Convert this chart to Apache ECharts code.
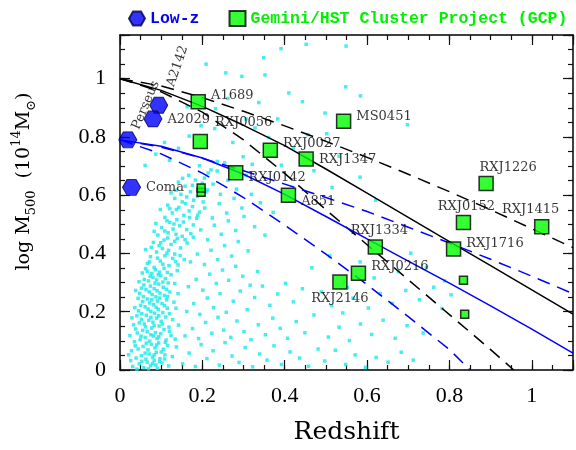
<!DOCTYPE html>
<html>
<head>
<meta charset="utf-8">
<script src="https://cdn.jsdelivr.net/npm/echarts@6/dist/echarts.min.js"></script>
<style>
html, body { margin: 0; padding: 0; background: #fff; }
#chart { width: 576px; height: 450px; }
</style>
</head>
<body>
<div id="chart"></div>
<script>
// ---- data ----
var zGrid = [0, 0.1, 0.2, 0.3, 0.4, 0.5, 0.6, 0.7, 0.8, 0.9, 1.0, 1.1];
var blackSolid = [1.0, 0.96, 0.905, 0.84, 0.77, 0.69, 0.607, 0.524, 0.441, 0.358, 0.275, 0.192];
var blackDashUpper = [1.0, 0.975, 0.935, 0.888, 0.838, 0.785, 0.73, 0.672, 0.612, 0.55, 0.485, 0.42];
var zBlackLower = [0, 0.1, 0.2, 0.3, 0.4, 0.5, 0.6, 0.7, 0.8, 0.9, 0.956];
var blackDashLower = [1.0, 0.955, 0.885, 0.79, 0.675, 0.55, 0.43, 0.31, 0.19, 0.07, 0];
var blueSolid = [0.79, 0.768, 0.728, 0.672, 0.603, 0.527, 0.45, 0.374, 0.298, 0.22, 0.14, 0.058];
var blueDashUpper = [0.79, 0.765, 0.727, 0.684, 0.638, 0.592, 0.544, 0.49, 0.436, 0.38, 0.322, 0.262];
var zBlueLower = [0, 0.1, 0.2, 0.3, 0.4, 0.5, 0.6, 0.7, 0.8, 0.85];
var blueDashLower = [0.79, 0.742, 0.676, 0.592, 0.497, 0.398, 0.293, 0.183, 0.07, 0];

var lowzNames = ['Perseus', 'A2142', 'A2029', 'Coma'];
var lowzZ = [0.019, 0.094, 0.080, 0.028];
var lowzM = [0.79, 0.909, 0.862, 0.627];

var gcpNames = ['A1689', 'RXJ0056', 'RXJ0142', 'RXJ0027', 'RXJ1347', 'MS0451', 'A851',
  'RXJ1334', 'RXJ0216', 'RXJ2146', 'RXJ1716', 'RXJ0152', 'RXJ1226', 'RXJ1415'];
var gcpZ = [0.19, 0.195, 0.281, 0.365, 0.452, 0.543, 0.409, 0.620, 0.579, 0.534, 0.810, 0.834, 0.889, 1.024];
var gcpM = [0.921, 0.784, 0.677, 0.754, 0.724, 0.854, 0.600, 0.422, 0.332, 0.302, 0.415, 0.506, 0.640, 0.492];
var gcpSmallZ = [0.197, 0.197, 0.834, 0.837];
var gcpSmallM = [0.61, 0.625, 0.308, 0.191];

// field clusters [z, logM], dense low-mass part of the cloud
var cloudLow = [
  [0.031,0.012],[0.047,0.021],[0.058,0.008],[0.066,0.027],[0.074,0.015],[0.083,0.033],[0.091,0.006],[0.102,0.024],[0.118,0.014],[0.039,0.041],
  [0.052,0.049],[0.063,0.037],[0.071,0.055],[0.079,0.044],[0.088,0.061],[0.097,0.039],[0.109,0.052],[0.127,0.046],[0.028,0.066],[0.044,0.072],
  [0.056,0.081],[0.068,0.069],[0.076,0.088],[0.085,0.076],[0.094,0.093],[0.105,0.071],[0.116,0.084],[0.137,0.079],[0.035,0.097],[0.049,0.104],
  [0.061,0.112],[0.072,0.099],[0.081,0.117],[0.09,0.108],[0.099,0.125],[0.112,0.103],[0.124,0.118],[0.042,0.127],[0.055,0.136],[0.066,0.131],
  [0.077,0.144],[0.086,0.128],[0.095,0.151],[0.107,0.139],[0.119,0.147],[0.033,0.155],[0.047,0.162],[0.059,0.158],[0.07,0.171],[0.08,0.164],
  [0.089,0.178],[0.1,0.167],[0.111,0.182],[0.128,0.173],[0.041,0.186],[0.053,0.193],[0.064,0.188],[0.075,0.201],[0.084,0.195],[0.093,0.208],
  [0.104,0.197],[0.115,0.212],[0.036,0.214],[0.05,0.222],[0.061,0.217],[0.072,0.23],[0.082,0.224],[0.091,0.237],[0.102,0.228],[0.113,0.241],
  [0.131,0.233],[0.044,0.246],[0.057,0.252],[0.067,0.244],[0.078,0.259],[0.087,0.251],[0.097,0.264],[0.108,0.256],[0.121,0.268],[0.038,0.273],
  [0.052,0.281],[0.063,0.276],[0.074,0.288],[0.083,0.279],[0.094,0.295],[0.105,0.284],[0.117,0.299],[0.046,0.303],[0.059,0.311],[0.069,0.306],
  [0.08,0.318],[0.089,0.309],[0.099,0.324],[0.11,0.314],[0.124,0.327],[0.054,0.333],[0.066,0.339],[0.077,0.331],[0.086,0.344],[0.096,0.336],
  [0.107,0.349],[0.139,0.341],
  [0.026,0.032],[0.041,0.003],[0.053,0.03],[0.069,0.004],[0.079,0.022],[0.087,0.017],[0.096,0.029],[0.108,0.038],[0.061,0.058],[0.083,0.052],
  [0.1,0.062],[0.037,0.083],[0.064,0.092],[0.089,0.086],[0.11,0.095],[0.051,0.116],[0.075,0.121],[0.094,0.114],[0.12,0.133],[0.038,0.141],
  [0.062,0.148],[0.083,0.152],[0.103,0.158],[0.052,0.174],[0.075,0.181],[0.094,0.186],[0.12,0.193],[0.045,0.203],[0.068,0.209],[0.088,0.215],
  [0.108,0.221],[0.055,0.235],[0.077,0.241],[0.096,0.247],[0.116,0.252],[0.048,0.263],[0.071,0.268],[0.09,0.272],[0.113,0.277],[0.058,0.292],
  [0.085,0.298],[0.104,0.302],[0.073,0.322],[0.093,0.327],[0.062,0.348],[0.115,0.335],[0.024,0.118],[0.029,0.179],[0.021,0.052],[0.134,0.106],
  [0.142,0.154],[0.136,0.212],[0.141,0.262],[0.133,0.297]
];

// upper, tilted part of the dense cloud
var cloudHigh = [
  [0.083,0.352],[0.119,0.358],[0.067,0.366],[0.141,0.361],[0.098,0.374],[0.128,0.383],[0.074,0.389],[0.109,0.392],[0.156,0.379],[0.089,0.405],
  [0.133,0.398],[0.062,0.413],[0.118,0.411],[0.147,0.419],[0.095,0.427],[0.081,0.438],[0.124,0.431],[0.163,0.436],[0.107,0.446],[0.139,0.452],
  [0.092,0.463],[0.151,0.459],[0.117,0.471],[0.172,0.468],[0.129,0.484],[0.101,0.489],[0.145,0.495],[0.162,0.482],[0.087,0.503],[0.121,0.507],
  [0.178,0.498],[0.138,0.516],[0.109,0.524],[0.155,0.531],[0.186,0.521],[0.127,0.539],[0.168,0.546],[0.098,0.551],[0.143,0.558],[0.193,0.542],
  [0.116,0.566],[0.159,0.571],[0.179,0.583],[0.133,0.589],[0.202,0.577],[0.148,0.603],[0.171,0.612],[0.124,0.608],[0.191,0.624],[0.158,0.631],
  [0.212,0.618],[0.142,0.645],[0.183,0.652],[0.167,0.668],[0.205,0.659],[0.221,0.687],[0.193,0.701],[0.236,0.716],
  [0.072,0.371],[0.104,0.363],[0.135,0.372],[0.091,0.384],[0.114,0.401],[0.146,0.393],[0.076,0.421],[0.103,0.417],[0.133,0.442],[0.116,0.453],
  [0.099,0.437],[0.158,0.447],[0.136,0.466],[0.109,0.477],[0.083,0.476],[0.154,0.508],[0.131,0.501],[0.114,0.512],[0.169,0.523],[0.137,0.551],
  [0.121,0.554],[0.176,0.561],[0.151,0.577],[0.188,0.596],[0.136,0.617],[0.162,0.594],[0.176,0.634],[0.2,0.641],[0.152,0.658],[0.214,0.676]
];

// intermediate redshifts
var fieldMid = [
  [0.152,0.021],[0.168,0.058],[0.183,0.012],[0.197,0.087],[0.211,0.039],[0.226,0.066],[0.241,0.017],[0.255,0.094],[0.272,0.048],[0.289,0.026],
  [0.304,0.077],[0.322,0.011],[0.339,0.055],[0.357,0.034],[0.374,0.083],[0.392,0.019],[0.413,0.062],[0.436,0.041],[0.458,0.013],[0.481,0.072],
  [0.158,0.117],[0.176,0.142],[0.191,0.108],[0.208,0.163],[0.223,0.126],[0.238,0.181],[0.252,0.137],[0.269,0.112],[0.284,0.168],[0.301,0.132],
  [0.318,0.104],[0.336,0.155],[0.353,0.121],[0.371,0.178],[0.389,0.143],[0.407,0.109],[0.428,0.166],[0.449,0.128],[0.162,0.201],[0.179,0.228],
  [0.194,0.191],[0.212,0.247],[0.227,0.214],[0.243,0.262],[0.258,0.198],[0.275,0.236],[0.292,0.271],[0.309,0.207],[0.327,0.249],[0.346,0.288],
  [0.364,0.222],[0.383,0.261],[0.402,0.297],[0.421,0.234],[0.443,0.279],[0.166,0.286],[0.185,0.311],[0.201,0.274],[0.218,0.329],[0.234,0.297],
  [0.249,0.343],[0.264,0.308],[0.281,0.356],[0.298,0.322],[0.316,0.291],[0.334,0.338],[0.171,0.371],[0.188,0.398],[0.205,0.362],[0.221,0.411],
  [0.237,0.379],[0.254,0.427],[0.271,0.391],[0.287,0.441],[0.311,0.409],[0.352,0.463],[0.178,0.456],[0.196,0.481],[0.213,0.447],[0.229,0.497],
  [0.246,0.466],[0.263,0.512],[0.281,0.479],[0.301,0.527],[0.327,0.492],[0.372,0.541],[0.189,0.531],[0.206,0.556],[0.224,0.522],[0.241,0.571],
  [0.259,0.539],[0.277,0.589],[0.296,0.556],[0.319,0.603],[0.341,0.574],[0.209,0.612],[0.226,0.638],[0.244,0.603],[0.262,0.651],[0.283,0.621],
  [0.306,0.668],[0.236,0.683],[0.254,0.711],[0.276,0.693],[0.299,0.732],[0.321,0.706]
];

// sparse high-z tail
var fieldFar = [
  [0.497,0.031],[0.523,0.068],[0.548,0.019],[0.571,0.052],[0.596,0.009],[0.622,0.043],[0.651,0.027],[0.683,0.061],[0.712,0.034],[0.506,0.113],
  [0.532,0.147],[0.557,0.101],[0.584,0.158],[0.611,0.122],[0.639,0.171],[0.668,0.109],[0.697,0.152],[0.736,0.127],[0.471,0.189],[0.514,0.221],
  [0.541,0.196],[0.566,0.247],[0.603,0.213],[0.632,0.262],[0.661,0.229],[0.694,0.273],[0.727,0.241],[0.762,0.284],[0.489,0.268],[0.552,0.283],
  [0.617,0.316],[0.676,0.338],[0.744,0.352],[0.788,0.306],[0.466,0.351],[0.509,0.392],[0.583,0.371],[0.706,0.401],[0.782,0.211],[0.804,0.258]
];

// sparse massive systems above the cloud
var fieldTop = [
  [0.12,0.72],[0.142,0.761],[0.168,0.803],[0.197,0.838],[0.23,0.829],[0.262,0.932],[0.209,1.05],[0.257,1.02],[0.296,1.008],[0.349,1.072],
  [0.391,1.103],[0.452,1.118],[0.549,1.112],[0.352,1.013],[0.548,0.972],[0.584,0.941],[0.41,0.951],[0.443,0.921],[0.337,0.918],[0.498,0.882],
  [0.502,0.811],[0.383,0.862],[0.698,0.842],[0.583,0.662],[0.306,0.862],[0.328,0.831],[0.232,0.897],[0.163,0.904],[0.421,0.762],[0.361,0.798],
  [0.108,0.781],[0.532,0.734],[0.471,0.684],[0.392,0.703],[0.061,0.702],[0.087,0.741],[0.274,0.781],[0.456,0.808],[0.621,0.583],[0.515,0.627]
];

// ---- helpers ----
function pairUp(xs, ys) {
  return ys.map(function (y, i) { return [xs[i], y]; });
}

var cloud = cloudLow.concat(cloudHigh, fieldMid, fieldFar, fieldTop);

var hexPath = 'path://M4,0 L2,3.46 L-2,3.46 L-4,0 L-2,-3.46 L2,-3.46 Z';
var gcpTitle = 'Gemini/HST Cluster Project (GCP)';
var serif = 'DejaVu Serif';
var tickFont = 'Liberation Serif';

// label placement for each named cluster (position, offset)
var labelPlace = {
  'A1689': ['right', [0, -6]], 'RXJ0056': ['right', [2, -19]], 'RXJ0142': ['right', [0, 5]],
  'RXJ0027': ['right', [0, -7]], 'RXJ1347': ['right', [0, 1]], 'MS0451': ['right', [0, -5]],
  'A851': ['right', [0, 6]], 'RXJ1334': ['top', [4, 3]], 'RXJ0216': ['right', [0, -7]],
  'RXJ2146': ['bottom', [0, -3]], 'RXJ1716': ['right', [0, -5]], 'RXJ0152': ['top', [3, 3]],
  'RXJ1226': ['top', [22, 3]], 'RXJ1415': ['top', [-11, 2]],
  'A2029': ['right', [0, 1]], 'Coma': ['right', [0, 0]]
};

function labelled(names, xs, ys) {
  return names.map(function (n, i) {
    var item = { name: n, value: [xs[i], ys[i]] };
    var p = labelPlace[n];
    if (p) {
      item.label = { show: true, position: p[0], offset: p[1] };
    }
    return item;
  });
}

var gcpData = labelled(gcpNames, gcpZ, gcpM);
gcpSmallZ.forEach(function (z, i) {
  gcpData.push({ name: '', value: [z, gcpSmallM[i]], symbolSize: 8 });
});

var lowzData = labelled(lowzNames, lowzZ, lowzM);
// Perseus and A2142 carry rotated labels
lowzData[0].label = { show: true, position: 'inside', rotate: 67, offset: [39, 3] };
lowzData[1].label = { show: true, position: 'inside', rotate: 71, offset: [43, 5] };

function fmt(step) {
  return function (v) {
    var k = v / step;
    if (Math.abs(k - Math.round(k)) > 1e-6) return '';
    return String(+v.toFixed(1));
  };
}

function frameAxis(dim, pos, interval, tickLen, main) {
  var max = dim === 'x' ? 1.1 : 1.15;
  return {
    type: 'value', min: 0, max: max, interval: interval, position: pos,
    axisLine: { show: main, onZero: false, lineStyle: { color: '#000', width: 1.5 } },
    axisTick: { show: true, inside: true, length: tickLen, lineStyle: { color: '#111', width: 1.2 } },
    axisLabel: { show: false },
    splitLine: { show: false }
  };
}

var xMain = frameAxis('x', 'bottom', 0.2, 10, true);
xMain.axisLabel = { show: true, formatter: fmt(0.2), fontFamily: tickFont, fontSize: 22, color: '#000', margin: 15 };
xMain.name = 'Redshift';
xMain.nameLocation = 'middle';
xMain.nameGap = 50;
xMain.nameTextStyle = { fontFamily: serif, fontSize: 25, color: '#000' };

var yMain = frameAxis('y', 'left', 0.2, 10, true);
yMain.axisLabel = { show: true, formatter: fmt(0.2), fontFamily: tickFont, fontSize: 22, color: '#000', margin: 14 };
yMain.name = '{n|log M}{s|500}{n|  (10}{p|14}{n|M}{s|\u2299}{n|)}';
yMain.nameLocation = 'middle';
yMain.nameGap = 82;
yMain.nameTextStyle = {
  color: '#000', padding: [0, 0, 0, 42],
  rich: {
    n: { fontFamily: serif, fontSize: 19, lineHeight: 28, color: '#000' },
    s: { fontFamily: serif, fontSize: 13, verticalAlign: 'bottom', color: '#000' },
    p: { fontFamily: serif, fontSize: 13, verticalAlign: 'top', color: '#000' }
  }
};

var chart = echarts.init(document.getElementById('chart'));

function curve(name, xs, ys, color, dashed) {
  return {
    name: name, type: 'line', xAxisIndex: 0, yAxisIndex: 0,
    data: pairUp(xs, ys), showSymbol: false, symbol: 'none',
    smooth: false, silent: true, z: 3,
    lineStyle: { color: color, width: 1.5, type: dashed ? [13, 8] : 'solid' }
  };
}

var option = {
  animation: false,
  backgroundColor: '#fff',
  grid: { left: 120, right: 1, top: 35, bottom: 72, containLabel: false },
  legend: {
    left: 128, top: 10, width: 448, padding: 0,
    itemWidth: 16, itemHeight: 15, itemGap: 29,
    selectedMode: false,
    textStyle: { fontFamily: 'Liberation Mono', fontWeight: 'bold', fontSize: 16.5 },
    data: [
      { name: 'Low-z', icon: hexPath, textStyle: { color: '#0000ff' } },
      { name: gcpTitle, icon: 'rect', textStyle: { color: '#00f000' } }
    ]
  },
  xAxis: [
    xMain,
    frameAxis('x', 'bottom', 0.05, 5, false),
    frameAxis('x', 'top', 0.2, 10, true),
    frameAxis('x', 'top', 0.05, 5, false)
  ],
  yAxis: [
    yMain,
    frameAxis('y', 'left', 0.05, 5, false),
    frameAxis('y', 'right', 0.2, 10, true),
    frameAxis('y', 'right', 0.05, 5, false)
  ],
  series: [
    {
      name: 'field', type: 'scatter', data: cloud, symbol: 'rect', symbolSize: 3.5,
      itemStyle: { color: '#15eaea' }, silent: true, z: 1
    },
    curve('blackSolid', zGrid, blackSolid, '#000', false),
    curve('blackDashUpper', zGrid, blackDashUpper, '#000', true),
    curve('blackDashLower', zBlackLower, blackDashLower, '#000', true),
    curve('blueSolid', zGrid, blueSolid, '#0000ff', false),
    curve('blueDashUpper', zGrid, blueDashUpper, '#0000ff', true),
    curve('blueDashLower', zBlueLower, blueDashLower, '#0000ff', true),
    {
      name: 'Low-z', type: 'scatter', data: lowzData, symbol: hexPath, symbolSize: [18, 16],
      itemStyle: { color: '#0000ff', borderColor: '#000040', borderWidth: 1 },
      label: { show: false, formatter: '{b}', fontFamily: serif, fontSize: 13, color: '#000' },
      silent: true, z: 5
    },
    {
      name: gcpTitle, type: 'scatter', data: gcpData, symbol: 'rect', symbolSize: 14,
      itemStyle: { color: '#00ff00', borderColor: '#000', borderWidth: 1.5 },
      label: { show: false, formatter: '{b}', fontFamily: serif, fontSize: 13, color: '#000' },
      silent: true, z: 5
    }
  ]
};

chart.setOption(option);
</script>
</body>
</html>
